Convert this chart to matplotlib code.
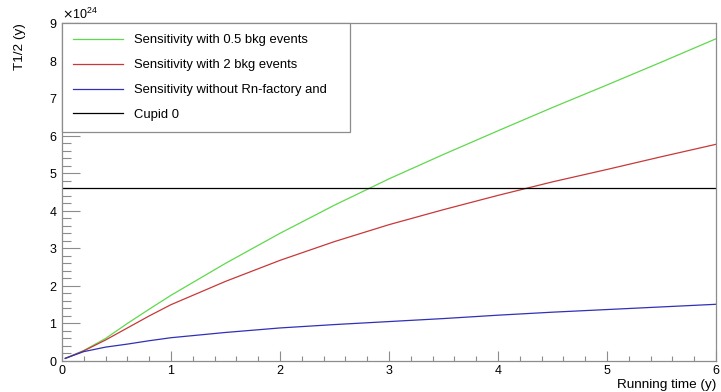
import numpy as np
import matplotlib
matplotlib.use('Agg')
import matplotlib.pyplot as plt
from matplotlib.ticker import MultipleLocator, ScalarFormatter

plt.rcParams['font.family'] = ['Liberation Sans', 'DejaVu Sans']
plt.rcParams['axes.unicode_minus'] = False

# running time (y) and half-life sensitivities in units of 1e24 y
t_run = [0.03, 0.2, 0.4, 0.6, 0.8, 1.0, 1.5, 2.0, 2.5, 3.0, 3.5, 4.0, 4.5, 5.0, 5.5, 6.0]
s_green = [0.07, 0.28, 0.60, 1.00, 1.38, 1.75, 2.60, 3.40, 4.15, 4.85, 5.50, 6.13, 6.75, 7.35, 7.96, 8.58]
s_red = [0.07, 0.27, 0.56, 0.88, 1.20, 1.50, 2.12, 2.68, 3.18, 3.63, 4.03, 4.41, 4.77, 5.10, 5.44, 5.77]
s_blue = [0.07, 0.25, 0.37, 0.45, 0.54, 0.62, 0.76, 0.88, 0.97, 1.05, 1.13, 1.22, 1.30, 1.37, 1.44, 1.51]

cupid0 = 4.6
scale = 1e24

labels = ['Sensitivity with 0.5 bkg events',
          'Sensitivity with 2 bkg events',
          'Sensitivity without Rn-factory and',
          'Cupid 0']

fig = plt.figure(figsize=(7.21, 3.92), dpi=100)
ax = fig.add_axes([62 / 721, 31 / 392, 654 / 721, 338 / 392])

ax.plot(t_run, np.array(s_green) * scale, color='#5fd94c', lw=0.9, label=labels[0])
ax.plot(t_run, np.array(s_red) * scale, color='#c83838', lw=0.9, label=labels[1])
ax.plot(t_run, np.array(s_blue) * scale, color='#3030b8', lw=0.9, label=labels[2])
ax.axhline(cupid0 * scale, color='black', lw=0.9, label=labels[3])

ax.set_xlim(0, 6)
ax.set_ylim(0, 9 * scale)

ax.xaxis.set_major_locator(MultipleLocator(1))
ax.xaxis.set_minor_locator(MultipleLocator(0.2))
ax.yaxis.set_major_locator(MultipleLocator(1 * scale))
ax.yaxis.set_minor_locator(MultipleLocator(0.2 * scale))
fmt = ScalarFormatter(useMathText=True)
ax.yaxis.set_major_formatter(fmt)
ax.yaxis.get_offset_text().set_fontsize(9)

gray = '#8c8c8c'
for s in ax.spines.values():
    s.set_color(gray)
    s.set_linewidth(0.9)
ax.tick_params(axis='both', which='both', direction='in', colors=gray,
               labelcolor='black', labelsize=9, pad=3, width=0.8)
ax.tick_params(axis='x', which='major', length=7)
ax.tick_params(axis='x', which='minor', length=3.5)
ax.tick_params(axis='y', which='major', length=13)
ax.tick_params(axis='y', which='minor', length=6.5)

ax.set_xlabel('Running time (y)', loc='right', fontsize=9.7, labelpad=1)
ax.set_ylabel('T1/2 (y)', loc='top', fontsize=9.7, labelpad=17)

leg = ax.legend(loc='upper left', bbox_to_anchor=(0, 0, 288 / 654, 1), mode='expand',
                borderaxespad=0, fancybox=False, framealpha=1, edgecolor=gray,
                fontsize=9.4, handlelength=3.83, handletextpad=0.84, labelspacing=0.98,
                borderpad=0.85)
leg.get_frame().set_linewidth(0.9)

fig.savefig('out.png', dpi=100)
